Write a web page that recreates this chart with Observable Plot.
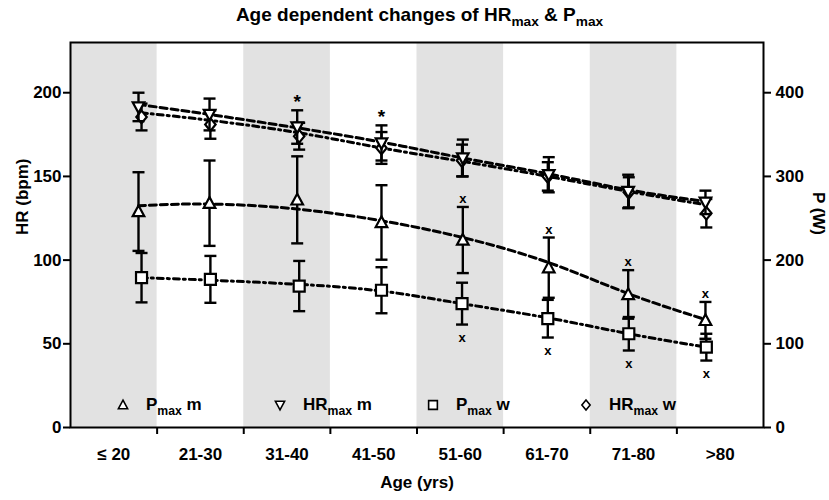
<!DOCTYPE html>
<html>
<head>
<meta charset="utf-8">
<script src="https://cdn.jsdelivr.net/npm/d3@7"></script>
<script src="https://cdn.jsdelivr.net/npm/@observablehq/plot@0.6"></script>
<style>
  body { margin: 0; background: #fff; font-family: "Liberation Sans", Arial, sans-serif; font-weight: bold; color: #000; }
  #wrap { position: relative; width: 829px; height: 500px; overflow: hidden; }
  #title { height: 30px; line-height: 30px; text-align: center; font-size: 19px; padding-left: 10px; box-sizing: border-box; }
  sub { font-size: 0.72em; vertical-align: -0.38em; line-height: 0; }
  .leg { position: absolute; top: 393px; height: 24px; display: flex; align-items: center; font-size: 17px; white-space: nowrap; }
  .leg svg { display: block; margin-right: 16px; }
</style>
</head>
<body>
<div id="wrap">
  <div id="title">Age dependent changes of HR<sub>max</sub> &amp; P<sub>max</sub></div>
  <div id="chart"></div>
</div>
<script>
// ---------- data ----------
const categories = ["≤ 20", "21-30", "31-40", "41-50", "51-60", "61-70", "71-80", ">80"];
const bandEdges = [10, 20, 30, 40, 50, 60, 70, 80, 90];
const hrTicks = [0, 50, 100, 150, 200];
const pTicks = [0, 100, 200, 300, 400];

// mean age of each group (x position of the points)
const ageMen   = [17.85, 26.05, 36.17, 45.90, 55.29, 65.21, 74.38, 83.30];
const ageWomen = [18.20, 26.15, 36.40, 45.90, 55.20, 65.10, 74.45, 83.40];

// HRmax (bpm), mean and SD
const hrMenMean   = [191.5, 187, 179.5, 170, 161, 151, 141, 134.5];
const hrMenSD     = [8.5, 9.5, 10, 10.5, 11, 10.5, 10, 7];
const hrWomenMean = [185.5, 181, 174, 167, 159.5, 150, 140.5, 128];
const hrWomenSD   = [8, 8.5, 8, 9.5, 9.5, 8.5, 9, 8.5];

// Pmax (W), mean and SD
const pMenMean   = [258, 268, 272, 245, 224, 191, 159, 128];
const pMenSD     = [47, 51, 52, 44.5, 39.5, 36, 29, 22];
const pWomenMean = [179, 177, 169, 164, 148, 130, 112, 96];
const pWomenSD   = [29.5, 28, 30, 27.5, 25, 22.5, 20, 16];

// fitted trend lines, read at each group
const hrMenTrend   = [193, 187, 179, 170.5, 161, 151.5, 142, 135];
const hrWomenTrend = [188, 183.5, 176, 167, 159, 150, 141, 133];
const pMenTrend    = [265, 267, 261, 247, 227, 197, 160, 129];
const pWomenTrend  = [179, 176, 171, 163, 148, 131, 112, 96];

// significance marks
const sigHrMen   = ["", "", "*", "*", "", "", "", ""];
const sigPMen    = ["", "", "", "", "x", "x", "x", "x"];
const sigPWomen  = ["", "", "", "", "x", "x", "x", "x"];

// ---------- build tables ----------
const yMax = 230;          // HR axis top
const pPerHr = 2;          // right axis: P = 2 × HR units
const rows = (ages, mean, sd, trend, sig, k) => ages.map((a, i) => ({
  age: a, mean: mean[i] / k, lo: (mean[i] - sd[i]) / k, hi: (mean[i] + sd[i]) / k,
  trend: trend[i] / k, sig: sig ? sig[i] : ""
}));
const hrM = rows(ageMen, hrMenMean, hrMenSD, hrMenTrend, sigHrMen, 1);
const hrW = rows(ageWomen, hrWomenMean, hrWomenSD, hrWomenTrend, null, 1);
const pM  = rows(ageMen, pMenMean, pMenSD, pMenTrend, sigPMen, pPerHr);
const pW  = rows(ageWomen, pWomenMean, pWomenSD, pWomenTrend, sigPWomen, pPerHr);

const bands = categories.map((c, i) => ({x1: bandEdges[i], x2: bandEdges[i + 1], shade: i % 2 === 0}));
const shaded = bands.filter(b => b.shade);
const inner = bandEdges.slice(1, -1);
const centers = bands.map(b => (b.x1 + b.x2) / 2);

// ---------- symbols ----------
const poly = (pts) => ({ draw(ctx, size) {
  const r = Math.sqrt(size / Math.PI);
  ctx.moveTo(pts[0][0] * r, pts[0][1] * r);
  for (let j = 1; j < pts.length; j++) ctx.lineTo(pts[j][0] * r, pts[j][1] * r);
  ctx.closePath();
}});
const triUp   = poly([[0, -1.05], [1, 0.8], [-1, 0.8]]);
const triDown = poly([[0, 1.05], [1, -0.8], [-1, -0.8]]);
const square  = poly([[-0.95, -0.95], [0.95, -0.95], [0.95, 0.95], [-0.95, 0.95]]);
const diamond = poly([[0, -1.1], [0.9, 0], [0, 1.1], [-0.9, 0]]);
const cap = { draw(ctx, size) { const r = Math.sqrt(size / Math.PI); ctx.moveTo(-r, 0); ctx.lineTo(r, 0); } };

const dashed = "7,4";
const dashDot = "6,4,2,4";

const series = (data, dash) => [
  Plot.line(data, {x: "age", y: "trend", stroke: "black", strokeWidth: 3, strokeDasharray: dash, curve: "natural"})
];
const bars = (data, symbol) => [
  Plot.ruleX(data, {x: "age", y1: "lo", y2: "hi", stroke: "black", strokeWidth: 2.4}),
  Plot.dot(data, {x: "age", y: "lo", symbol: cap, r: 6, stroke: "black", strokeWidth: 2.4}),
  Plot.dot(data, {x: "age", y: "hi", symbol: cap, r: 6, stroke: "black", strokeWidth: 2.4}),
  Plot.dot(data, {x: "age", y: "mean", symbol, r: 5.8, fill: "white", stroke: "black", strokeWidth: 2.2})
];

const chart = Plot.plot({
  width: 829, height: 470,
  marginTop: 12, marginBottom: 73, marginLeft: 70, marginRight: 66,
  x: {domain: [bandEdges[0], bandEdges[bandEdges.length - 1]]},
  y: {domain: [0, yMax]},
  style: {fontFamily: '"Liberation Sans", Arial, sans-serif', fontSize: "17px", fontWeight: "bold", color: "black", background: "white"},
  marks: [
    Plot.rect(shaded, {x1: "x1", x2: "x2", y1: 0, y2: yMax, fill: "#e2e2e2"}),
    ...series(pW, dashDot),
    ...series(pM, dashed),
    ...series(hrW, dashDot),
    ...series(hrM, dashed),
    ...bars(pW, square),
    ...bars(pM, triUp),
    ...bars(hrW, diamond),
    ...bars(hrM, triDown),
    Plot.text(hrM.filter(d => d.sig), {x: "age", y: "hi", text: "sig", lineAnchor: "bottom", dy: -2, fontSize: 19}),
    Plot.text(pM.filter(d => d.sig), {x: "age", y: "hi", text: "sig", lineAnchor: "bottom", dy: -4, fontSize: 13}),
    Plot.text(pW.filter(d => d.sig), {x: "age", y: "lo", text: "sig", lineAnchor: "bottom", dy: 17, fontSize: 13}),
    Plot.frame({stroke: "black", strokeWidth: 2}),
    Plot.axisY({anchor: "left", ticks: hrTicks, tickSize: 7, tickPadding: 2, strokeWidth: 2, label: null}),
    Plot.axisY({anchor: "right", ticks: pTicks.map(p => p / pPerHr), tickFormat: d => d * pPerHr, tickSize: 7, tickPadding: 5, strokeWidth: 2, label: null}),
    Plot.axisX({ticks: inner, tickSize: 7, tickFormat: () => "", strokeWidth: 2, label: null}),
    Plot.axisX({ticks: centers, tickSize: 0, tickPadding: 20, tickFormat: d => categories[centers.indexOf(d)], label: null}),
    Plot.text(["HR (bpm)"], {text: d => d, frameAnchor: "left", dx: -48, rotate: -90, fontSize: 17}),
    Plot.text(["P (W)"], {text: d => d, frameAnchor: "right", dx: 55, rotate: 90, fontSize: 17}),
    Plot.text(["Age (yrs)"], {text: d => d, frameAnchor: "bottom", dy: 60, fontSize: 17})
  ]
});
document.getElementById("chart").appendChild(chart);

// ---------- legend (inside the plot area) ----------
const legendItems = [
  {symbol: triUp, main: "P", sub: "max", tail: " m"},
  {symbol: triDown, main: "HR", sub: "max", tail: " m"},
  {symbol: square, main: "P", sub: "max", tail: " w"},
  {symbol: diamond, main: "HR", sub: "max", tail: " w"}
];
const legendLeft = [116, 273, 426, 579];
const wrap = document.getElementById("wrap");
legendItems.forEach((it, i) => {
  const div = document.createElement("div");
  div.className = "leg";
  div.style.left = legendLeft[i] + "px";
  const path = d3.symbol(it.symbol, Math.PI * 4.6 * 4.6)();
  div.innerHTML = `<svg width="14" height="14" viewBox="-7 -7 14 14"><path d="${path}" fill="white" stroke="black" stroke-width="1.6"/></svg>` +
    `<span>${it.main}<sub>${it.sub}</sub>${it.tail}</span>`;
  wrap.appendChild(div);
});
</script>
</body>
</html>
